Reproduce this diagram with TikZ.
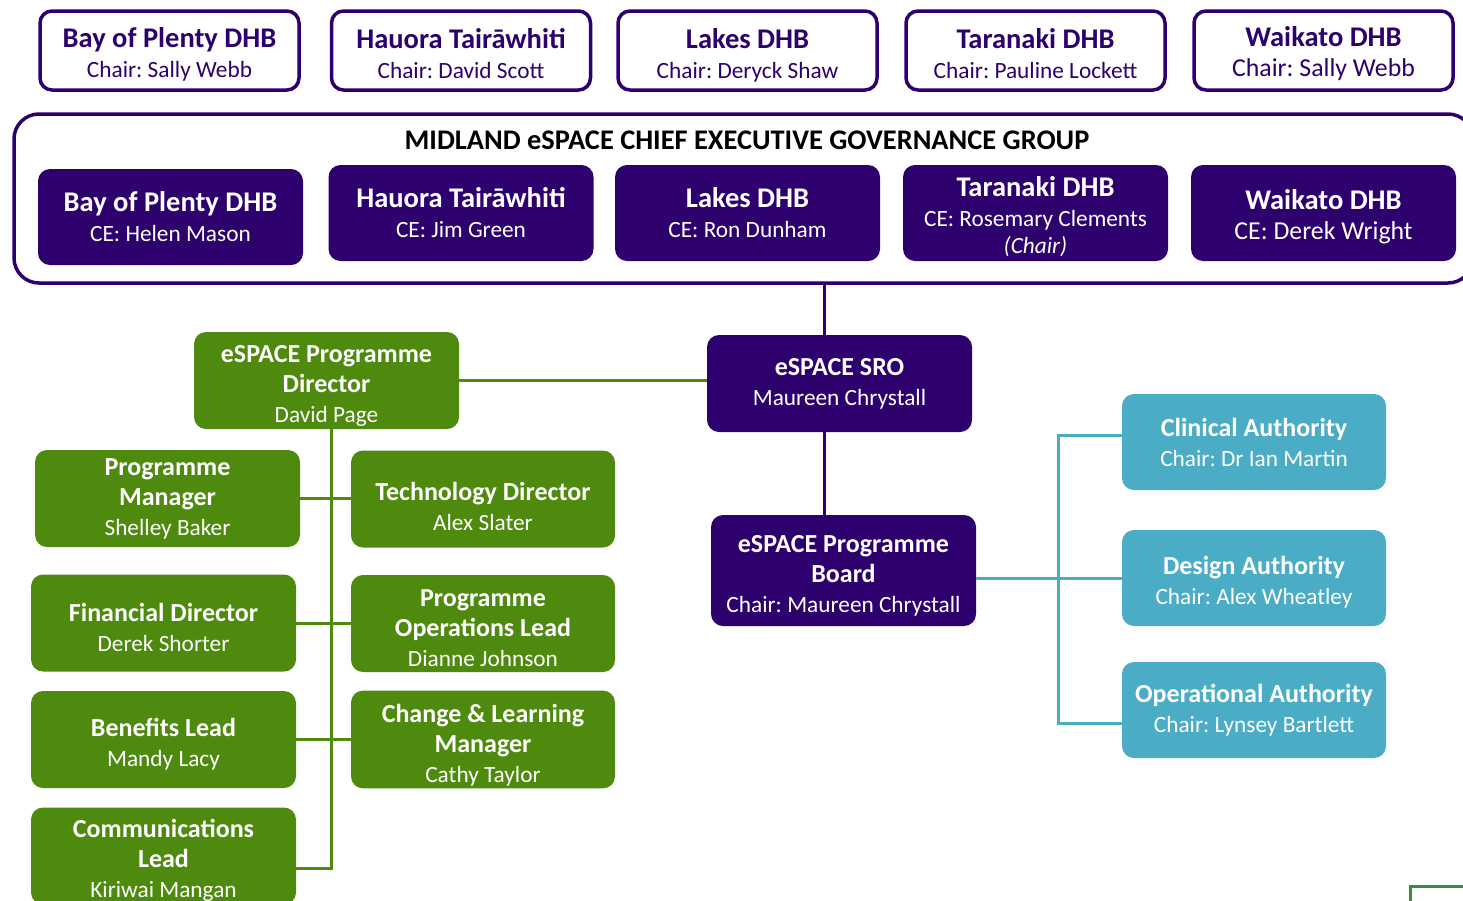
\documentclass[tikz,border=0pt]{standalone}
\usepackage{fontspec}
\setmainfont{Carlito}
\frenchspacing
\definecolor{espurple}{HTML}{2D006E}
\definecolor{esgreen}{HTML}{4E8A0E}
\definecolor{esblue}{HTML}{4BACC6}
\definecolor{edgegreen}{HTML}{3A8C3A}
\newcommand{\lift}[1][27pt]{\rule{0pt}{#1}}
\newcommand{\boxtitle}[1]{{\bfseries\fontsize{26}{30}\selectfont #1}}
\newcommand{\dhbtitle}[1]{{\bfseries\fontsize{28.5}{30}\selectfont #1}}
\newcommand{\widesub}[1]{{\fontsize{25.8}{30}\selectfont #1}}
\tikzset{
  orgbox/.style={rectangle, rounded corners=12pt, minimum width=265pt,
                 minimum height=97pt, align=center, inner sep=2pt,
                 font=\fontsize{23.3}{30}\selectfont},
  chairbox/.style={orgbox, draw=espurple, line width=3.5pt, fill=white,
                   text=espurple, minimum width=259pt, minimum height=79pt},
  cebox/.style={orgbox, fill=espurple, text=white, minimum height=96pt},
  progbox/.style={orgbox, fill=esgreen, text=white},
  authbox/.style={orgbox, fill=esblue, text=white, minimum width=264pt,
                  minimum height=96pt},
  groupframe/.style={rectangle, draw=espurple, line width=3.5pt,
                     rounded corners=25pt, minimum width=1459pt,
                     minimum height=169pt},
  grouptitle/.style={font=\bfseries\fontsize{28.4}{30}\selectfont, text=black},
  purplelink/.style={draw=espurple, line width=3pt},
  greenlink/.style={draw=esgreen, line width=3pt},
  bluelink/.style={draw=esblue, line width=3pt}
}

\begin{document}
\begin{tikzpicture}[x=1pt, y=-1pt]
  \useasboundingbox (0,0) rectangle (1463,900);

  % board chairs
  \node[chairbox] (chbop) at (169.5, 50.5)
    {\lift\dhbtitle{Bay of Plenty DHB}\\Chair: Sally Webb};
  \node[chairbox] (chhau) at (461, 50.5)
    {\lift\dhbtitle{Hauora Tair\=awhiti}\\Chair: David Scott};
  \node[chairbox] (chlak) at (747.5, 50.5)
    {\lift[29pt]\dhbtitle{Lakes DHB}\\Chair: Deryck Shaw};
  \node[chairbox] (chtar) at (1035.5, 50.5)
    {\lift\dhbtitle{Taranaki DHB}\\Chair: Pauline Lockett};
  \node[chairbox] (chwai) at (1323.5, 50.5)
    {\lift\dhbtitle{Waikato DHB}\\\widesub{Chair: Sally Webb}};

  % chief executive group
  \node[groupframe] (cegroup) at (743.5, 198.5) {};
  \node[grouptitle] (cetitle) at (747, 140)
    {MIDLAND eSPACE CHIEF EXECUTIVE GOVERNANCE GROUP};
  \node[cebox] (cebop) at (170.5, 217)
    {\dhbtitle{Bay of Plenty DHB}\\CE: Helen Mason};
  \node[cebox] (cehau) at (461, 213)
    {\dhbtitle{Hauora Tair\=awhiti}\\CE: Jim Green};
  \node[cebox] (celak) at (747.5, 213)
    {\dhbtitle{Lakes DHB}\\CE: Ron Dunham};
  \node[cebox] (cetar) at (1035.5, 213)
    {\lift\dhbtitle{Taranaki DHB}\\CE: Rosemary Clements\\[-3pt]\textit{(Chair)}};
  \node[cebox] (cewai) at (1323.5, 213)
    {\lift\dhbtitle{Waikato DHB}\\\widesub{CE: Derek Wright}};

  % sro and board
  \coordinate (trunk) at (824, 300);
  \node[cebox, minimum height=97pt] (sro) at (839.5, 383.5)
    {\boxtitle{eSPACE SRO}\\Maureen Chrystall};
  \node[cebox, minimum height=111pt] (board) at (843.5, 570.5)
    {\lift\boxtitle{eSPACE Programme}\\\boxtitle{Board}\\Chair: Maureen Chrystall};
  \draw[purplelink] (cegroup.south -| trunk) -- (sro.north -| trunk);
  \draw[purplelink] (sro.south -| trunk) -- (board.north -| trunk);

  % programme team
  \node[progbox] (pdir) at (326.5, 380.5)
    {\lift\boxtitle{eSPACE Programme}\\\boxtitle{Director}\\David Page};
  \node[progbox] (pman) at (167.5, 498.5)
    {\boxtitle{Programme}\\\boxtitle{Manager}\\Shelley Baker};
  \node[progbox, minimum width=264pt] (tech) at (483, 499)
    {\lift[33pt]\boxtitle{Technology Director}\\Alex Slater};
  \node[progbox] (fin) at (163.5, 623)
    {\lift\boxtitle{Financial Director}\\Derek Shorter};
  \node[progbox, minimum width=264pt] (pops) at (483, 623.5)
    {\lift\boxtitle{Programme}\\\boxtitle{Operations Lead}\\Dianne Johnson};
  \node[progbox] (ben) at (163.5, 739.5)
    {\lift\boxtitle{Benefits Lead}\\Mandy Lacy};
  \node[progbox, minimum width=264pt] (chg) at (483, 739.5)
    {\lift[30pt]\boxtitle{Change \& Learning}\\\boxtitle{Manager}\\Cathy Taylor};
  \node[progbox] (comms) at (163.5, 856)
    {\lift\boxtitle{Communications}\\\boxtitle{Lead}\\Kiriwai Mangan};

  \coordinate (spine) at (331, 868);
  \draw[greenlink] (pdir.east) -- (pdir.east -| sro.west);
  \draw[greenlink] (pdir.south -| spine) -- (spine) -- (spine -| comms.east);
  \foreach \l/\r in {pman/tech, fin/pops, ben/chg} {
    \draw[greenlink] (\l.east) -- (\l.east -| \r.west);
  }

  % authorities
  \node[authbox] (clin) at (1254, 442)
    {\boxtitle{Clinical Authority}\\Chair: Dr Ian Martin};
  \node[authbox] (desn) at (1254, 578)
    {\lift\boxtitle{Design Authority}\\Chair: Alex Wheatley};
  \node[authbox] (oper) at (1254, 710)
    {\boxtitle{Operational Authority}\\Chair: Lynsey Bartlett};

  \coordinate (bus) at (1058, 580);
  \draw[bluelink] (desn.west) -- (desn.west -| board.east);
  \draw[bluelink] ([yshift=7pt]clin.west) -- ([yshift=7pt]clin.west -| bus)
    -- ([yshift=-13pt]oper.west -| bus) -- ([yshift=-13pt]oper.west);

  % edge of the next page
  \draw[edgegreen, line width=3pt] (1410, 905) -- (1410, 886) -- (1470, 886);
\end{tikzpicture}
\end{document}
